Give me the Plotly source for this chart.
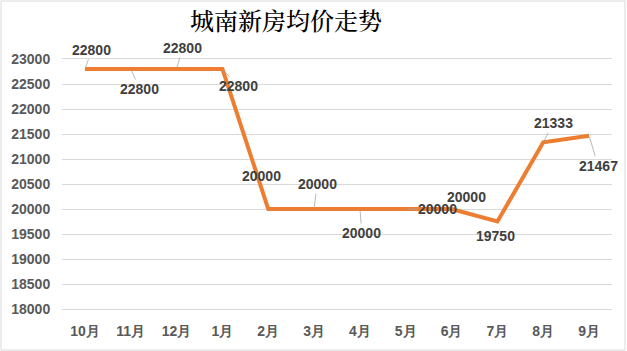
import plotly.graph_objects as go

months = ["10月", "11月", "12月", "1月", "2月", "3月", "4月", "5月", "6月", "7月", "8月", "9月"]
prices = [22800, 22800, 22800, 22800, 20000, 20000, 20000, 20000, 20000, 19750, 21333, 21467]
y_ticks = list(range(18000, 23001, 500))
y_tick_labels = [str(v) for v in y_ticks]
title_text = "城南新房均价走势"

# label offsets (pixels) relative to each point, and whether a leader line is shown
label_offsets = [(7, -19), (9, 20), (6, -21), (16, 17), (-7, -33), (3, -25),
                 (2, 24), (32, 0), (15, -12), (-2, 14), (10, -19), (9, 30)]
leader = [True, True, True, True, False, True, True, True, True, False, True, True]

fig = go.Figure()
fig.add_trace(go.Scatter(
    x=months, y=prices, mode="lines",
    line=dict(color="#ED7D31", width=4),
    hoverinfo="skip",
))

lab_font = dict(family="Liberation Sans, Arial, sans-serif", size=14, color="#404040", weight="bold")
for m, p, (dx, dy), ld in zip(months, prices, label_offsets, leader):
    if ld:
        fig.add_annotation(x=m, y=p, text=str(p), showarrow=True, arrowhead=0,
                           arrowwidth=0.8, arrowcolor="#a6a6a6", ax=dx, ay=dy,
                           standoff=1, font=lab_font)
    else:
        fig.add_annotation(x=m, y=p, text=str(p), showarrow=False,
                           xshift=dx, yshift=-dy, font=lab_font)

fig.add_shape(type="rect", xref="paper", yref="paper",
              x0=-61 / 550, x1=563 / 550, y0=-41 / 250, y1=1 + 58 / 250,
              line=dict(color="#d9d9d9", width=1), fillcolor="rgba(0,0,0,0)", layer="below")

tick_font = dict(family="Liberation Sans, Arial, sans-serif", size=14, color="#595959", weight="bold")
fig.update_layout(
    width=627, height=351,
    margin=dict(l=62, r=15, t=59, b=42),
    paper_bgcolor="white", plot_bgcolor="white",
    showlegend=False,
    title=dict(text=title_text, x=286 / 627, xanchor="center", y=1 - 22 / 351,
               yanchor="middle", yref="container",
               font=dict(family="Noto Serif CJK SC, Noto Sans CJK SC, serif", size=24,
                         color="#000000", weight=500)),
    xaxis=dict(type="category", range=[-0.5, 11.5], showgrid=False, zeroline=False,
               showline=True, linecolor="#d9d9d9", linewidth=1, mirror=True,
               ticks="outside", ticklen=9, tickcolor="rgba(0,0,0,0)", tickfont=tick_font),
    yaxis=dict(range=[18000, 23000], tickvals=y_ticks, ticktext=y_tick_labels,
               showgrid=True, gridcolor="#d9d9d9",
               gridwidth=1, zeroline=False, showline=False,
               ticks="outside", ticklen=8, tickcolor="rgba(0,0,0,0)", tickfont=tick_font),
)

fig.write_html("out.html")
